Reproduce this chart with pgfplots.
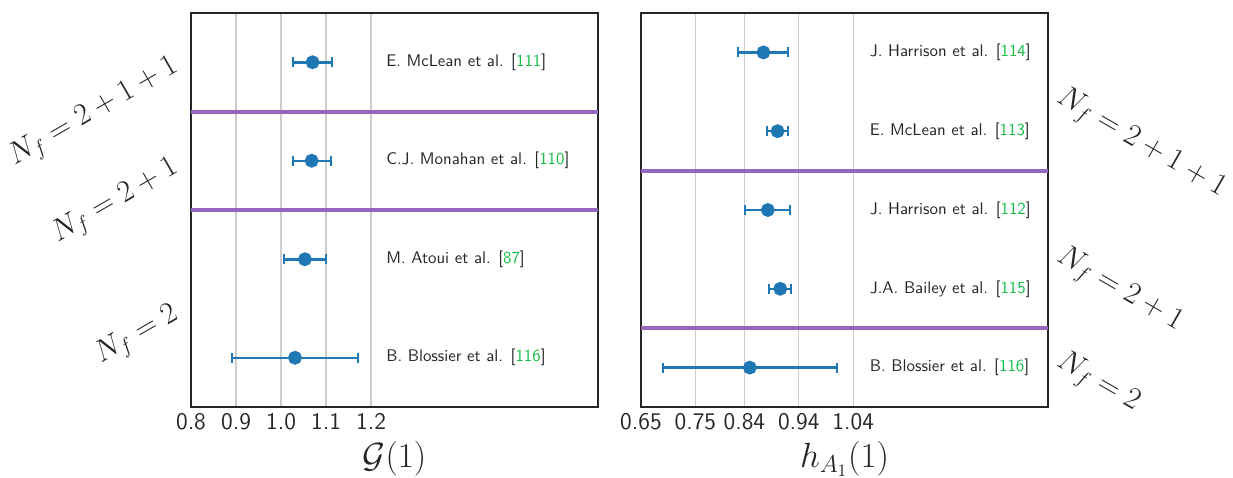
\RequirePackage{fix-cm}
\documentclass[border=0pt]{standalone}
\usepackage{pgfplots}
\pgfplotsset{compat=1.18}

\definecolor{mplblue}{HTML}{1F77B4}
\definecolor{mplpurple}{HTML}{9467BD}
\definecolor{citegreen}{RGB}{20,190,70}
\definecolor{framegray}{HTML}{262626}
\definecolor{gridgray}{HTML}{CCCCCC}
\newcommand{\refs}[1]{[\textcolor{citegreen}{#1}]}

% 1 px of the reference = 0.6pt
\pgfplotsset{
  forest/.style={
    scale only axis, width=244.2pt, height=236.4pt, anchor=south west,
    axis line style={framegray, line width=1.1pt},
    xmajorgrids, grid style={gridgray, line width=0.8pt},
    major tick length=0pt, ytick=\empty,
    xticklabel style={font=\sffamily\fontsize{14.3}{16}\selectfont, text=framegray},
    xlabel style={font=\fontsize{21}{24}\selectfont, text=framegray,
      at={(axis description cs:0.5,-0.132)}, anchor=center},
    clip=false,
  },
  est/.style={mplblue, line width=1.5pt, only marks, mark=*, mark size=3.4pt,
    mark options={fill=mplblue, draw=mplblue},
    error bars/.cd, x dir=both, x explicit,
    error bar style={line width=1.5pt, mplblue},
    error mark=|,
    error mark options={mplblue, mark size=3pt, line width=1.2pt}},
  sep/.style={mplpurple, line width=2.4pt},
}
\tikzset{lab/.style={anchor=west, inner sep=0pt, text=framegray,
    font=\sffamily\fontsize{10.1}{12}\selectfont}}

\begin{document}
\begin{tikzpicture}
\useasboundingbox (0,0) rectangle (739.8pt,286.8pt);

\begin{axis}[forest, at={(114.6pt,42.6pt)},
  xmin=0.8, xmax=1.704, ymin=-0.5, ymax=3.5,
  xtick={0.8,0.9,1.0,1.1,1.2}, xticklabels={0.8,0.9,1.0,1.1,1.2},
  xlabel={$\mathcal{G}(1)$}]
\addplot[sep] coordinates {(0.8,2.5) (1.704,2.5)};
\addplot[sep] coordinates {(0.8,1.5) (1.704,1.5)};
\addplot[est] coordinates {
  (1.070,3) +- (0.043,0)
  (1.068,2) +- (0.042,0)
  (1.053,1) +- (0.046,0)
  (1.031,0) +- (0.141,0)
};
\node[lab] at (axis cs:1.233,3) {E. McLean et al. \refs{111}};
\node[lab] at (axis cs:1.233,2) {C.J. Monahan et al. \refs{110}};
\node[lab] at (axis cs:1.233,1) {M. Atoui et al. \refs{87}};
\node[lab] at (axis cs:1.233,0) {B. Blossier et al. \refs{116}};
\end{axis}

\begin{axis}[forest, at={(384.6pt,42.6pt)},
  xmin=0.65, xmax=1.398, ymin=-0.5, ymax=4.5,
  xtick={0.65,0.75,0.84,0.94,1.04}, xticklabels={0.65,0.75,0.84,0.94,1.04},
  xlabel={$h_{A_1}(1)$}]
\addplot[sep] coordinates {(0.65,2.5) (1.398,2.5)};
\addplot[sep] coordinates {(0.65,0.5) (1.398,0.5)};
\addplot[est] coordinates {
  (0.875,4) +- (0.046,0)
  (0.901,3) +- (0.019,0)
  (0.883,2) +- (0.041,0)
  (0.906,1) +- (0.020,0)
  (0.850,0) +- (0.160,0)
};
\node[lab] at (axis cs:1.070,4) {J. Harrison et al. \refs{114}};
\node[lab] at (axis cs:1.070,3) {E. McLean et al. \refs{113}};
\node[lab] at (axis cs:1.070,2) {J. Harrison et al. \refs{112}};
\node[lab] at (axis cs:1.070,1) {J.A. Bailey et al. \refs{115}};
\node[lab] at (axis cs:1.070,0) {B. Blossier et al. \refs{116}};
\end{axis}

% group labels
\begin{scope}[every node/.style={inner sep=0pt, text=framegray,
    font=\fontsize{18.4}{21}\selectfont}]
\node[rotate=30, anchor=east] at (106pt,248pt) {$N_f = 2+1+1$};
\node[rotate=30, anchor=east] at (106pt,187pt) {$N_f = 2+1$};
\node[rotate=30, anchor=east] at (106pt,99pt) {$N_f = 2$};
\node[rotate=-30, anchor=west] at (635pt,229pt) {$N_f = 2+1+1$};
\node[rotate=-30, anchor=west] at (635pt,134pt) {$N_f = 2+1$};
\node[rotate=-30, anchor=west] at (635pt,71pt) {$N_f = 2$};
\end{scope}
\end{tikzpicture}
\end{document}
